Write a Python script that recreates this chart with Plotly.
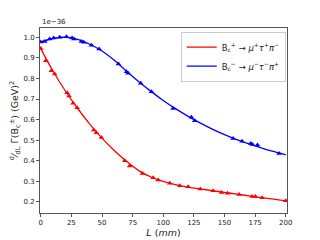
import plotly.graph_objects as go

# values in units of 1e-36 GeV^2
L_red_pts = [0, 4.1, 8.7, 11.4, 21.5, 23.1, 26.4, 29.7, 43.3, 45.4, 49.5, 68.6, 72.6, 83, 91.7, 95.8,
             105.3, 113.5, 120.3, 130.2, 140.7, 147.5, 152.4, 161.9, 172.5, 175.2, 180.7, 200]
v_red_pts = [0.945, 0.886, 0.837, 0.821, 0.730, 0.714, 0.679, 0.657, 0.549, 0.536, 0.513, 0.400, 0.375,
             0.338, 0.317, 0.306, 0.290, 0.278, 0.273, 0.263, 0.254, 0.246, 0.242, 0.236, 0.226, 0.226,
             0.220, 0.205]

L_blue_pts = [0, 3.3, 7.3, 10.6, 15.5, 21, 25.6, 27.2, 33.2, 35.1, 41.4, 47.6, 63.4, 70, 71.3, 81.6,
              90.4, 108, 123, 125.7, 157, 164.3, 171.4, 172.8, 176.9, 194.5]
v_blue_pts = [0.977, 0.980, 0.992, 0.996, 1.000, 1.003, 0.997, 0.992, 0.980, 0.976, 0.961, 0.943, 0.870,
              0.833, 0.825, 0.776, 0.735, 0.654, 0.611, 0.594, 0.508, 0.495, 0.484, 0.479, 0.476, 0.435]

L_curve = [0, 10, 20, 30, 40, 50, 60, 70, 80, 90, 100, 110, 120, 130, 140, 150, 160, 170, 180, 190, 200]
v_red_curve = [0.945, 0.836, 0.740, 0.655, 0.578, 0.510, 0.450, 0.397, 0.352, 0.321, 0.300, 0.284,
               0.272, 0.263, 0.255, 0.246, 0.238, 0.229, 0.221, 0.213, 0.205]
v_blue_curve = [0.977, 0.994, 1.000, 0.990, 0.966, 0.933, 0.888, 0.835, 0.784, 0.737, 0.693, 0.653,
                0.617, 0.584, 0.554, 0.527, 0.503, 0.482, 0.463, 0.445, 0.429]

x_ticks = [0, 25, 50, 75, 100, 125, 150, 175, 200]
y_ticks = [0.2, 0.3, 0.4, 0.5, 0.6, 0.7, 0.8, 0.9, 1.0]

label_red = "B<sub>c</sub><sup>+</sup> → <i>μ</i><sup>+</sup><i>τ</i><sup>+</sup><i>π</i><sup>−</sup>"
label_blue = "B<sub>c</sub><sup>−</sup> → <i>μ</i><sup>−</sup><i>τ</i><sup>−</sup><i>π</i><sup>+</sup>"

fig = go.Figure()
fig.add_trace(go.Scatter(x=L_curve, y=v_red_curve, mode="lines", line=dict(color="red", width=1.3, shape="spline"),
                         name=label_red))
fig.add_trace(go.Scatter(x=L_curve, y=v_blue_curve, mode="lines", line=dict(color="blue", width=1.3, shape="spline"),
                         name=label_blue))
fig.add_trace(go.Scatter(x=L_red_pts, y=v_red_pts, mode="markers",
                         marker=dict(symbol="triangle-up", size=5, color="red"), showlegend=False))
fig.add_trace(go.Scatter(x=L_blue_pts, y=v_blue_pts, mode="markers",
                         marker=dict(symbol="triangle-up", size=5, color="blue"), showlegend=False))

axis_common = dict(showgrid=False, zeroline=False, showline=True, linecolor="#555", linewidth=1,
                   mirror=True, ticks="outside", ticklen=3, tickcolor="#555", automargin=False,
                   tickfont=dict(family="DejaVu Sans", size=7, color="#222"))

# page body has an 8px default margin, so the figure is sized/offset to compensate
fig.update_layout(
    width=312, height=232,
    margin=dict(l=32, r=33, t=20, b=27),
    paper_bgcolor="white", plot_bgcolor="white",
    font=dict(family="DejaVu Sans", color="#222"),
    xaxis=dict(range=[-0.6, 201], tickvals=x_ticks, ticktext=[str(t) for t in x_ticks],
               title=dict(text="<i>L</i> (<i>mm</i>)", font=dict(size=9.5), standoff=1), **axis_common),
    yaxis=dict(range=[0.146, 1.045], tickvals=y_ticks, ticktext=[f"{t:.1f}" for t in y_ticks],
               title=dict(text="<sup>d</sup>⁄<sub>dL</sub> Γ(B<sub>c</sub><sup>±</sup>) (GeV)<sup>2</sup>",
                          font=dict(size=9.5), standoff=3), **axis_common),
    legend=dict(x=0.995, y=0.98, xanchor="right", yanchor="top", bgcolor="rgba(255,255,255,0.9)",
                bordercolor="#ccc", borderwidth=1, font=dict(size=8.5), itemwidth=30,
                tracegroupgap=0),
    annotations=[dict(text="1e−36", xref="paper", yref="paper", x=0, y=1.0, xanchor="left",
                      yanchor="bottom", showarrow=False, font=dict(size=7, color="#222"))],
)

fig.write_html("out.html")
